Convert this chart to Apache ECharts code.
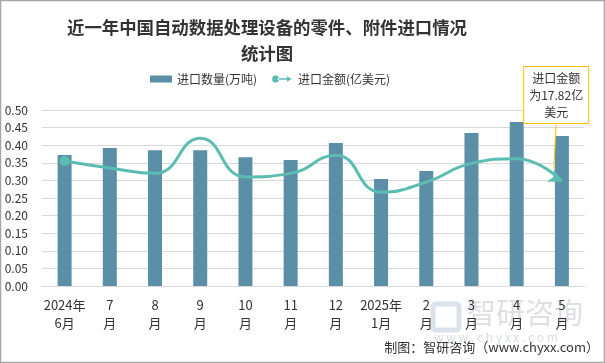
<!DOCTYPE html>
<html><head><meta charset="utf-8">
<script src="https://cdn.jsdelivr.net/npm/echarts@6/dist/echarts.min.js"></script>
<style>html,body{margin:0;padding:0;background:#fff}#c{width:605px;height:363px}</style>
</head><body><div id="c"></div>
<script>
const categories = ['2024年\n6月','7\n月','8\n月','9\n月','10\n月','11\n月','12\n月','2025年\n1月','2\n月','3\n月','4\n月','5\n月'];
const importQty = [0.372,0.392,0.386,0.386,0.366,0.358,0.406,0.304,0.327,0.435,0.466,0.426];
const importAmt = [21.3,20.1,19.2,25.2,18.6,19.2,22.3,16.0,17.7,20.9,21.7,17.82];
const yTicks = {min:0,max:0.5,interval:0.05};
const FONT = '"Noto Sans CJK SC","Noto Sans",sans-serif';

const chart = echarts.init(document.getElementById('c'));
const lineData = importAmt.map((v,i)=>{
  const d = {value:v};
  if(i===0){ d.symbol='circle'; d.symbolSize=10; }
  else if(i===importAmt.length-1){
    d.symbol='arrow'; d.symbolSize=[11,13]; d.symbolRotate=-118;
    d.label={show:true,position:'top',distance:0,
      formatter:'进口金额\n为'+v+'亿\n美元',
      color:'#333',fontSize:12,lineHeight:17,fontFamily:FONT,
      backgroundColor:'#fff',borderColor:'#FFC000',borderWidth:1,padding:[3,5,2,5],align:'center'};
    d.labelLine={show:true,lineStyle:{color:'#FFC000',width:1}};
  } else { d.symbol='none'; }
  return d;
});
chart.setOption({
  animation:false,
  title:{text:'近一年中国自动数据处理设备的零件、附件进口情况\n统计图',left:262,textAlign:'center',top:9,
    textStyle:{fontSize:17.4,fontWeight:'bold',color:'#333',lineHeight:26,fontFamily:FONT}},
  legend:{left:145,top:68,itemGap:15,textStyle:{fontSize:12,color:'#333',fontFamily:FONT},
    data:[{name:'进口数量(万吨)',icon:'rect',itemStyle:{color:'#5b8fa7'}},
          {name:'进口金额(亿美元)',icon:'path://M0,5a5,5 0 1,0 10,0a5,5 0 1,0 -10,0Z M8,3.8L21,3.8L21,1L28,5L21,9L21,6.2L8,6.2Z',itemStyle:{color:'#5bbcb2'}}],
    itemWidth:22,itemHeight:7},
  grid:{left:42,right:20.5,top:110,bottom:77},
  xAxis:{type:'category',data:categories,
    axisLine:{lineStyle:{color:'#d9d9d9'}},axisTick:{show:false},
    axisLabel:{color:'#333',fontSize:13,lineHeight:18,margin:10,interval:0,fontFamily:FONT}},
  yAxis:[{type:'value',min:yTicks.min,max:yTicks.max,interval:yTicks.interval,
    axisLabel:{color:'#333',fontSize:12,formatter:v=>v.toFixed(2),margin:14,fontFamily:FONT},
    splitLine:{lineStyle:{color:'#d9d9d9'}},axisLine:{show:false},axisTick:{show:false}},
    {type:'value',min:0,max:30,show:false,splitLine:{show:false}}],
  series:[
    {name:'进口数量(万吨)',type:'bar',data:importQty,barWidth:14,itemStyle:{color:'#5b8fa7'}},
    {name:'进口金额(亿美元)',type:'line',yAxisIndex:1,data:lineData,smooth:0.5,
      lineStyle:{color:'#5bbcb2',width:3},itemStyle:{color:'#5bbcb2'},
      labelLayout:{dy:-46},z:5}
  ],
  graphic:[
    {type:'rect',shape:{x:0.5,y:0.5,width:604,height:362},style:{fill:'none',stroke:'#a6a6a6',lineWidth:1.5},z:100},
    {type:'rect',shape:{x:433,y:304,width:26,height:26,r:3},style:{fill:'none',stroke:'rgba(175,190,215,0.45)',lineWidth:5},z:0},
    {type:'text',left:467,top:298,style:{text:'智研咨询',fontSize:29,fill:'rgba(180,185,195,0.45)',fontFamily:FONT},z:0},
    {type:'text',left:434,top:331,style:{text:'w w w . c h y x x . c o m',fontSize:12,fill:'rgba(180,185,195,0.5)',fontFamily:FONT},z:0},
    {type:'text',right:6,top:341,style:{text:'制图：智研咨询（www.chyxx.com）',fontSize:13,fill:'#333',fontFamily:FONT},z:10}
  ]
});
</script></body></html>
